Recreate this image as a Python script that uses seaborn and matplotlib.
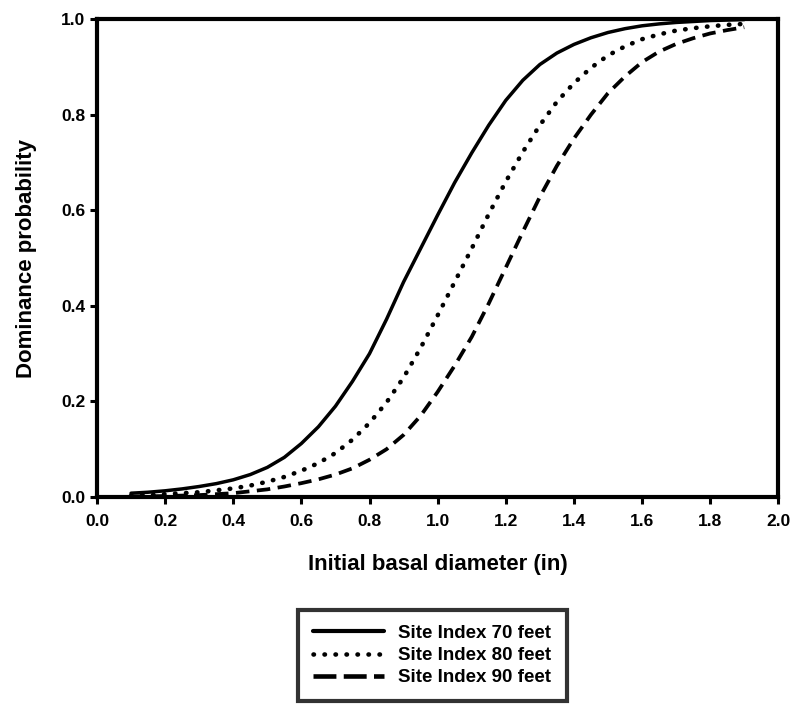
import pandas as pd
import matplotlib
matplotlib.use('Agg')
import matplotlib.pyplot as plt
import seaborn as sns

# valores (passo de 0.05 in)
diameter = [0.10, 0.15, 0.20, 0.25, 0.30, 0.35, 0.40, 0.45, 0.50, 0.55,
            0.60, 0.65, 0.70, 0.75, 0.80, 0.85, 0.90, 0.95, 1.00, 1.05,
            1.10, 1.15, 1.20, 1.25, 1.30, 1.35, 1.40, 1.45, 1.50, 1.55,
            1.60, 1.65, 1.70, 1.75, 1.80, 1.85, 1.90]
si70 = [0.008, 0.010, 0.013, 0.017, 0.022, 0.028, 0.036, 0.047, 0.062, 0.083,
        0.112, 0.147, 0.190, 0.242, 0.300, 0.372, 0.450, 0.520, 0.590, 0.658,
        0.720, 0.778, 0.830, 0.872, 0.905, 0.929, 0.947, 0.961, 0.972, 0.980,
        0.986, 0.990, 0.993, 0.995, 0.997, 0.998, 0.999]
si80 = [0.003, 0.004, 0.006, 0.008, 0.010, 0.014, 0.018, 0.024, 0.032, 0.042,
        0.055, 0.071, 0.092, 0.120, 0.155, 0.198, 0.250, 0.312, 0.380, 0.450,
        0.520, 0.592, 0.660, 0.722, 0.778, 0.827, 0.866, 0.898, 0.924, 0.943,
        0.958, 0.968, 0.976, 0.981, 0.985, 0.988, 0.990]
si90 = [0.001, 0.0015, 0.002, 0.003, 0.004, 0.006, 0.008, 0.012, 0.016, 0.022,
        0.029, 0.037, 0.047, 0.060, 0.078, 0.100, 0.130, 0.170, 0.220, 0.275,
        0.335, 0.405, 0.480, 0.555, 0.628, 0.693, 0.750, 0.800, 0.845, 0.880,
        0.910, 0.932, 0.948, 0.960, 0.970, 0.977, 0.983]
labels = ['Site Index 70 feet', 'Site Index 80 feet', 'Site Index 90 feet']
x_ticks = [0.0, 0.2, 0.4, 0.6, 0.8, 1.0, 1.2, 1.4, 1.6, 1.8, 2.0]
y_ticks = [0.0, 0.2, 0.4, 0.6, 0.8, 1.0]

df = pd.DataFrame({
    'diameter': diameter * 3,
    'prob': si70 + si80 + si90,
    'site': [labels[0]] * len(diameter) + [labels[1]] * len(diameter) + [labels[2]] * len(diameter),
})

sns.set_style('ticks')
plt.rcParams['font.family'] = ['Liberation Sans', 'DejaVu Sans']
plt.rcParams['font.weight'] = 'bold'
plt.rcParams['text.color'] = 'black'
plt.rcParams['axes.labelcolor'] = 'black'
plt.rcParams['xtick.color'] = 'black'
plt.rcParams['ytick.color'] = 'black'

fig = plt.figure(figsize=(7.95, 7.08), dpi=100)
ax = fig.add_axes([0.122, 0.298, 0.857, 0.675])

dashes = {labels[0]: '', labels[1]: (0.1, 2.3), labels[2]: (3.6, 2.0)}
sns.lineplot(data=df, x='diameter', y='prob', style='site', dashes=dashes,
             color='black', linewidth=2.5, ax=ax, sort=False)
# linha pontilhada mais grossa com pontas redondas
ax.lines[1].set_linewidth(3.3)
ax.lines[1].set_dash_capstyle('round')
ax.lines[2].set_linewidth(2.7)

ax.set_xlim(0, 2.0)
ax.set_ylim(0, 1.0)
ax.set_xticks(x_ticks)
ax.set_yticks(y_ticks)
ax.set_xticklabels([f'{v:.1f}' for v in x_ticks], fontsize=12.5, fontweight='bold', color='black')
ax.set_yticklabels([f'{v:.1f}' for v in y_ticks], fontsize=12.5, fontweight='bold', color='black')
ax.tick_params(direction='out', length=5, width=2.2, colors='black')
ax.tick_params(axis='x', pad=7)
ax.tick_params(axis='y', pad=3.5)
for side in ['left', 'bottom', 'top', 'right']:
    ax.spines[side].set_visible(True)
    ax.spines[side].set_linewidth(3)
    ax.spines[side].set_color('black')

ax.set_xlabel('Initial basal diameter (in)', fontsize=16, fontweight='bold',
              labelpad=18, color='black')
ax.set_ylabel('Dominance probability', fontsize=16, fontweight='bold',
              labelpad=17, color='black')

handles, lbls = ax.get_legend_handles_labels()
if ax.get_legend() is not None:
    ax.get_legend().remove()
handles[0].set_linewidth(3)
handles[1].set_linewidth(3.3)
handles[1].set_dash_capstyle('round')
handles[2].set_linewidth(3.3)
handles[2].set_dashes((5.0, 1.6))
leg = fig.legend(handles, lbls, loc='upper left', bbox_to_anchor=(0.375, 0.139),
                 frameon=True, fancybox=False, edgecolor='black', fontsize=13.5,
                 handlelength=3.8, handletextpad=0.75, labelspacing=0.28,
                 borderpad=0.8, borderaxespad=0)
leg.get_frame().set_linewidth(3)
for t in leg.get_texts():
    t.set_fontweight('bold')
    t.set_color('black')

fig.savefig('out.png', dpi=100)
